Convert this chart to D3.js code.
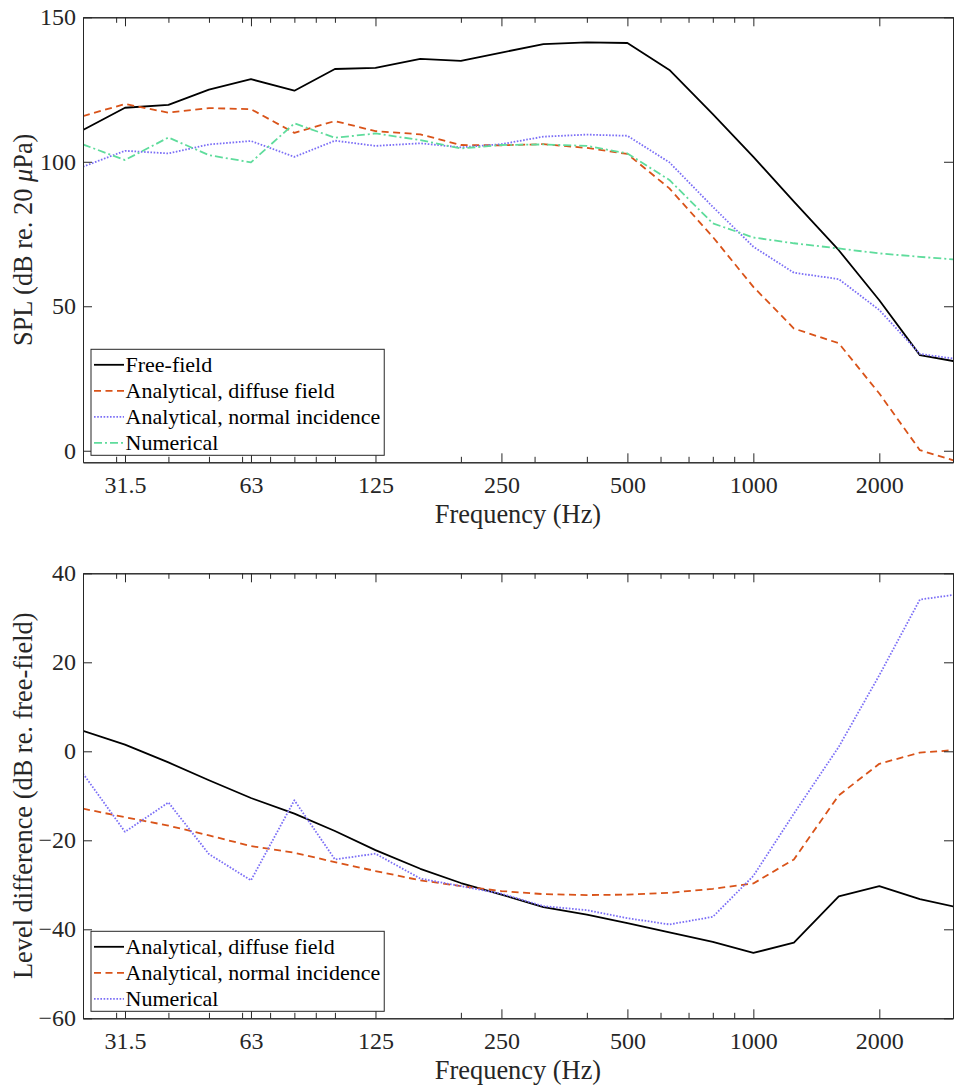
<!DOCTYPE html>
<html>
<head>
<meta charset="utf-8">
<script src="https://cdn.jsdelivr.net/npm/d3@7"></script>
<style>
  html, body { margin: 0; padding: 0; background: #fff; }
  svg { display: block; font-family: "Liberation Serif", "Times New Roman", serif; }
</style>
</head>
<body>
<svg id="chart" width="954" height="1086"></svg>
<script>
// ---------- data ----------
const freqs = [25, 31.5, 40, 50, 63, 80, 100, 125, 160, 200, 250, 315, 400, 500, 630, 800, 1000, 1250, 1600, 2000, 2500, 3150];

// Top panel: SPL (dB re. 20 µPa)
const splFreeField   = [111, 118.7, 119.7, 125, 128.6, 124.6, 132.1, 132.5, 135.6, 134.9, 137.8, 140.7, 141.3, 141.1, 131.8, 116.5, 101.7, 86.2, 69.4, 52.1, 33.1, 30.5];
const splDiffuse     = [115.8, 120, 117, 118.6, 118.2, 110, 114.1, 110.6, 109.5, 105.8, 105.7, 106.1, 104.8, 102.7, 90.8, 74, 56.7, 42.3, 37.2, 19.8, 0.2, -4.2];
const splNormal      = [98.3, 103.8, 102.9, 106, 107.2, 101.7, 107.3, 105.5, 106.4, 105, 106.1, 108.7, 109.4, 109, 99.8, 84.4, 70.6, 61.6, 59.4, 48.7, 33.5, 31.5];
const splNumerical   = [106, 100.6, 108.4, 102.3, 99.8, 113.3, 108.3, 109.8, 107.5, 104.6, 105.8, 106, 105.5, 102.9, 93.7, 78.7, 73.8, 71.8, 70, 68.3, 67.1, 66];

// Bottom panel: level difference (dB re. free-field)
const ldDiffuse      = [4.6, 1.5, -2.5, -6.5, -10.5, -14, -17.9, -22.2, -26.4, -29.6, -32.2, -35, -36.7, -38.6, -40.7, -42.8, -45.3, -43, -32.6, -30.3, -33.2, -35.3];
const ldNormal       = [-12.9, -14.8, -16.7, -18.9, -21.3, -22.8, -24.9, -26.9, -29, -30.3, -31.4, -32.1, -32.3, -32.2, -31.8, -30.9, -29.7, -24.3, -9.9, -2.8, -0.3, 0.4];
const ldNumerical    = [-5, -18.1, -11.5, -23.1, -29, -11, -24.3, -23, -28.6, -30.3, -32, -34.8, -35.7, -37.5, -38.9, -37.2, -28, -14, 1, 17.1, 34.1, 35.4];

const xMajorTicks = [31.5, 63, 125, 250, 500, 1000, 2000];
const xMajorLabels = ["31.5", "63", "125", "250", "500", "1000", "2000"];
const xMinorTicks = [30, 40, 50, 60, 70, 80, 90, 100, 200, 300, 400, 600, 700, 800, 900, 3000];
const yTicksTop = [0, 50, 100, 150];
const yTicksBottom = [-60, -40, -20, 0, 20, 40];

const topLegend = ["Free-field", "Analytical, diffuse field", "Analytical, normal incidence", "Numerical"];
const bottomLegend = ["Analytical, diffuse field", "Analytical, normal incidence", "Numerical"];

// ---------- styles ----------
const C_BLACK = "#000000", C_ORANGE = "#D95319", C_BLUE = "#7B6EF6", C_GREEN = "#5FDC9C";
const styles = {
  solid:   { color: C_BLACK,  dash: null },
  dashed:  { color: C_ORANGE, dash: "7,4.5" },
  dotted:  { color: C_BLUE,   dash: "1.6,1.6" },
  dashdot: { color: C_GREEN,  dash: "8,3,2,3" }
};
const AX = "#262626";
const TICK_FONT = 24, LABEL_FONT = 26.4, LEGEND_FONT = 22;

const svg = d3.select("#chart");
const L = 83, R = 953;
const x = d3.scaleLog().domain([25, 3000]).range([L, R]);

function panel(id, top, bottom, yDomain, yTicks, series, legendNames, yLabelParts) {
  const y = d3.scaleLinear().domain(yDomain).range([bottom, top]);
  const g = svg.append("g");

  g.append("clipPath").attr("id", "clip" + id)
    .append("rect").attr("x", L).attr("y", top).attr("width", R - L).attr("height", bottom - top);

  // lines
  const line = d3.line().x((d, i) => x(freqs[i])).y(d => y(d));
  const lines = g.append("g").attr("clip-path", `url(#clip${id})`);
  series.forEach(s => {
    lines.append("path").datum(s.values)
      .attr("d", line)
      .attr("fill", "none")
      .attr("stroke", s.style.color)
      .attr("stroke-width", 1.8)
      .attr("stroke-linejoin", "round")
      .attr("stroke-dasharray", s.style.dash);
  });

  // axes
  const styleAxis = sel => {
    sel.select(".domain").attr("stroke", AX).attr("stroke-width", 1);
    sel.selectAll(".tick line").attr("stroke", AX).attr("stroke-width", 1);
    sel.selectAll(".tick text").attr("fill", AX).attr("font-size", TICK_FONT)
      .attr("font-family", "Liberation Serif, Times New Roman, serif");
  };
  const xb = g.append("g").attr("transform", `translate(0,${bottom})`)
    .call(d3.axisBottom(x).tickValues(xMajorTicks).tickFormat((d, i) => xMajorLabels[i])
      .tickSizeInner(-9).tickSizeOuter(0).tickPadding(14));
  styleAxis(xb);
  const xbm = g.append("g").attr("transform", `translate(0,${bottom})`)
    .call(d3.axisBottom(x).tickValues(xMinorTicks).tickFormat("").tickSizeInner(-5.5).tickSizeOuter(0));
  styleAxis(xbm);
  const xt = g.append("g").attr("transform", `translate(0,${top})`)
    .call(d3.axisTop(x).tickValues(xMajorTicks).tickFormat("").tickSizeInner(-9).tickSizeOuter(0));
  styleAxis(xt);
  const xtm = g.append("g").attr("transform", `translate(0,${top})`)
    .call(d3.axisTop(x).tickValues(xMinorTicks).tickFormat("").tickSizeInner(-5.5).tickSizeOuter(0));
  styleAxis(xtm);
  const yl = g.append("g").attr("transform", `translate(${L},0)`)
    .call(d3.axisLeft(y).tickValues(yTicks).tickFormat(d3.format("d")).tickSizeInner(-9).tickSizeOuter(0).tickPadding(7));
  styleAxis(yl);
  const yr = g.append("g").attr("transform", `translate(${R},0)`)
    .call(d3.axisRight(y).tickValues(yTicks).tickFormat("").tickSizeInner(-9).tickSizeOuter(0));
  styleAxis(yr);

  // x label
  g.append("text").attr("x", (L + R) / 2).attr("y", bottom + 61)
    .attr("text-anchor", "middle").attr("font-size", LABEL_FONT).attr("fill", AX)
    .text("Frequency (Hz)");

  // y label
  const yt = g.append("text")
    .attr("transform", `translate(32,${(top + bottom) / 2}) rotate(-90)`)
    .attr("text-anchor", "middle").attr("font-size", LABEL_FONT).attr("fill", AX);
  yLabelParts.forEach(p => {
    yt.append("tspan").attr("font-style", p.italic ? "italic" : null).text(p.t);
  });

  // legend
  const rowH = 26, n = legendNames.length;
  const boxH = n * rowH + 2;
  const boxX = L + 8, boxY = bottom - 7 - boxH;
  const lg = g.append("g");
  const box = lg.append("rect").attr("x", boxX).attr("y", boxY).attr("height", boxH)
    .attr("fill", "#fff").attr("stroke", AX).attr("stroke-width", 1);
  let maxW = 0;
  legendNames.forEach((name, i) => {
    const cy = boxY + 15.5 + i * rowH;
    lg.append("line").attr("x1", boxX + 3).attr("x2", boxX + 33).attr("y1", cy).attr("y2", cy)
      .attr("stroke", series[i].style.color).attr("stroke-width", 1.8)
      .attr("stroke-dasharray", series[i].style.dash);
    const t = lg.append("text").attr("x", boxX + 34.5).attr("y", cy + 7.5)
      .attr("font-size", LEGEND_FONT).attr("fill", "#000").text(name);
    maxW = Math.max(maxW, t.node().getComputedTextLength());
  });
  box.attr("width", 34.5 + maxW + 4);
}

panel("top", 17.3, 462.3, [-4, 150], yTicksTop, [
  { values: splFreeField, style: styles.solid },
  { values: splDiffuse, style: styles.dashed },
  { values: splNormal, style: styles.dotted },
  { values: splNumerical, style: styles.dashdot }
], topLegend, [{ t: "SPL (dB re. 20 " }, { t: "μ", italic: true }, { t: "Pa)" }]);

panel("bot", 573.3, 1018.3, [-60, 40], yTicksBottom, [
  { values: ldDiffuse, style: styles.solid },
  { values: ldNormal, style: styles.dashed },
  { values: ldNumerical, style: styles.dotted }
], bottomLegend, [{ t: "Level difference (dB re. free-field)" }]);
</script>
</body>
</html>
